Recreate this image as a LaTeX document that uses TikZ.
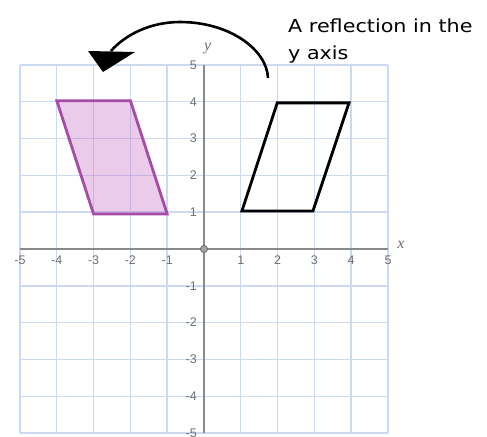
\documentclass[tikz,border=0pt]{standalone}
\usepackage{fontspec}
\setmainfont{Liberation Sans}
\newfontfamily\handfont[FakeStretch=1.15]{DejaVu Sans}
\newfontfamily\axisfont{Liberation Serif}
\definecolor{gridblue}{HTML}{CCD9F2}
\definecolor{axisgray}{HTML}{8A8A8A}
\definecolor{labgray}{HTML}{707070}
\definecolor{purpline}{HTML}{A64CA6}
\definecolor{purpfill}{HTML}{C060C0}
\begin{document}
\begin{tikzpicture}[x=36.8pt,y=36.8pt,
  gridline/.style={draw=gridblue,line width=1.4pt},
  axisline/.style={draw=axisgray,line width=2pt},
  ticklab/.style={font=\fontsize{12.5}{12.5}\selectfont,text=labgray,inner sep=0pt},
  axislab/.style={font=\axisfont\itshape\fontsize{16}{16}\selectfont,text=labgray,inner sep=0pt},
  shapeline/.style={line width=2.8pt,line join=miter},
  note/.style={font=\handfont\fontsize{18}{18}\selectfont,inner sep=0pt,anchor=base west}]
\useasboundingbox (-5.543,-5.082) rectangle (7.690,6.766);
\fill[white] (-5.543,-5.082) rectangle (7.690,6.766);
% grid
\foreach \k in {-5,...,5}{
  \draw[gridline] (\k,-5) -- (\k,5);
  \draw[gridline] (-5,\k) -- (5,\k);
}
% purple reflected shape
\fill[purpfill,opacity=0.32] (-4,4.03) -- (-2,4.03) -- (-1,0.95) -- (-3,0.95) -- cycle;
\draw[shapeline,purpline] (-4,4.03) -- (-2,4.03) -- (-1,0.95) -- (-3,0.95) -- cycle;
% axes
\draw[axisline] (-5,0) -- (5,0);
\draw[axisline] (0,-5) -- (0,5);
\filldraw[fill=axisgray!80,draw=axisgray!70!black,line width=0.6pt] (0,0) circle (0.1);
% tick labels
\foreach \k in {-5,-4,-3,-2,-1,1,2,3,4,5}{
  \node[ticklab] (xl\k) at (\k,-0.3) {\k};
}
\foreach \k in {-5,-4,-3,-2,-1,1,2,3,4,5}{
  \node[ticklab,anchor=east] (yl\k) at (-0.19,\k) {\k};
}
\node[axislab] (xlab) at (5.35,0.1) {x};
\node[axislab] (ylab) at (0.1,5.45) {y};
% original shape
\draw[shapeline,black] (1.03,1.03) -- (2.96,1.03) -- (3.94,3.97) -- (1.99,3.97) -- cycle;
% arrow
\coordinate (as) at (1.739,4.647);
\coordinate (ae) at (-2.527,5.380);
\draw[line width=2.6pt] (as) .. controls (1.712,5.408) and (0.707,6.168) .. (-0.652,6.168)
   .. controls (-1.467,6.168) and (-2.147,5.815) .. (ae);
\fill[black] (-3.152,5.380) -- (-1.875,5.353) -- (-2.745,4.810) -- cycle;
% note
\node[note] (n1) at (2.283,5.89) {A reflection in the};
\node[note] (n2) at (2.283,5.14) {y axis};
\end{tikzpicture}
\end{document}
